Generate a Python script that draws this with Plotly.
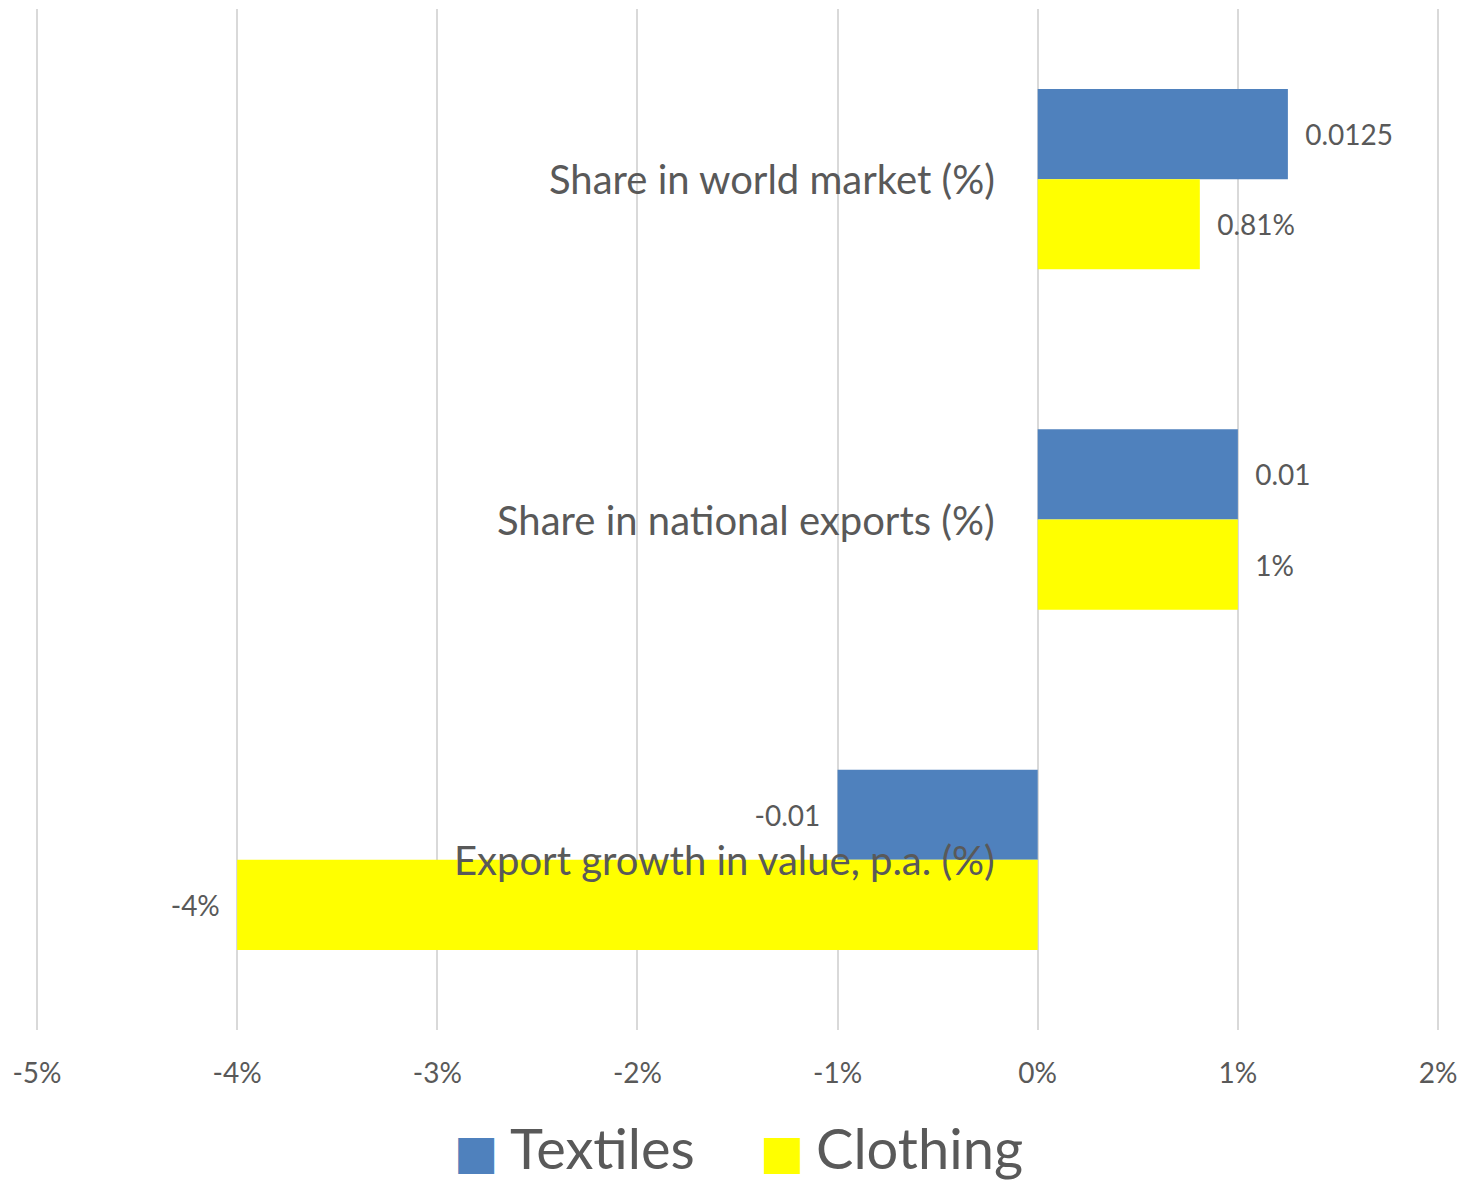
import plotly.graph_objects as go

categories = ["Share in world market (%)", "Share in national exports (%)", "Export growth in value, p.a. (%)"]
textiles = [0.0125, 0.01, -0.01]
clothing = [0.0081, 0.01, -0.04]
textiles_labels = ["0.0125", "0.01", "-0.01"]
clothing_labels = ["0.81%", "1%", "-4%"]
x_ticks = [-0.05, -0.04, -0.03, -0.02, -0.01, 0, 0.01, 0.02]
x_tick_labels = ["-5%", "-4%", "-3%", "-2%", "-1%", "0%", "1%", "2%"]
series_names = ["Textiles", "Clothing"]

FONT = "Lato"
GRAY = "#595959"
BLUE = "#4F81BD"
YELLOW = "#FFFF00"
COLORS = [BLUE, YELLOW]

def pad(labels, vals):
    out = []
    for l, v in zip(labels, vals):
        out.append(("  " + l) if v >= 0 else (l + "  "))
    return out

fig = go.Figure()
for name, vals, labels, color in zip(series_names, [textiles, clothing],
                                     [textiles_labels, clothing_labels], COLORS):
    fig.add_trace(go.Bar(
        y=categories, x=vals, orientation="h", name=name,
        marker=dict(color=color, line=dict(width=0)),
        text=pad(labels, vals), textposition="outside", constraintext="none",
        textfont=dict(family=FONT, size=28, color=GRAY), cliponaxis=False, showlegend=False,
    ))

annotations = []
for c in categories:
    annotations.append(dict(
        x=0, y=c, xref="x", yref="y", text=c, showarrow=False,
        xanchor="right", yanchor="middle", xshift=-41,
        font=dict(family=FONT, size=40, color=GRAY),
    ))

# legend (swatch + label), positioned in paper coordinates
legend_sq_x = [0.3144, 0.5316]
legend_tx_x = [0.3371, 0.5543]
for name, color, sx, tx in zip(series_names, COLORS, legend_sq_x, legend_tx_x):
    annotations.append(dict(
        x=sx, y=-0.1190, xref="paper", yref="paper", showarrow=False,
        xanchor="center", yanchor="middle", text="■",
        font=dict(family="DejaVu Sans", size=47, color=color),
    ))
    annotations.append(dict(
        x=tx, y=-0.1495, xref="paper", yref="paper", showarrow=False,
        xanchor="left", yanchor="bottom", text=name,
        font=dict(family=FONT, size=56, color=GRAY),
    ))

fig.update_layout(
    width=1462, height=1183,
    margin=dict(l=33, r=20, t=9, b=153, pad=0),
    paper_bgcolor="white", plot_bgcolor="white",
    barmode="group", bargap=0.47, bargroupgap=0,
    showlegend=False,
    annotations=annotations,
    font=dict(family=FONT, color=GRAY),
)
fig.update_xaxes(
    range=[-0.0502, 0.0202], tickvals=x_ticks, ticktext=x_tick_labels,
    showgrid=True, gridcolor="#D9D9D9", gridwidth=1.5, zeroline=False,
    showline=False, ticks="", ticklabelstandoff=24, ticklabeloverflow="allow",
    automargin=False,
    tickfont=dict(family=FONT, size=28, color=GRAY),
)
fig.update_yaxes(
    autorange="reversed", showticklabels=False, showgrid=False,
    zeroline=False, showline=False, ticks="", automargin=False,
)

fig.write_html(
    "out.html",
    config={"displayModeBar": False},
    post_script="document.body.style.margin='0';document.body.style.overflow='hidden';",
)
